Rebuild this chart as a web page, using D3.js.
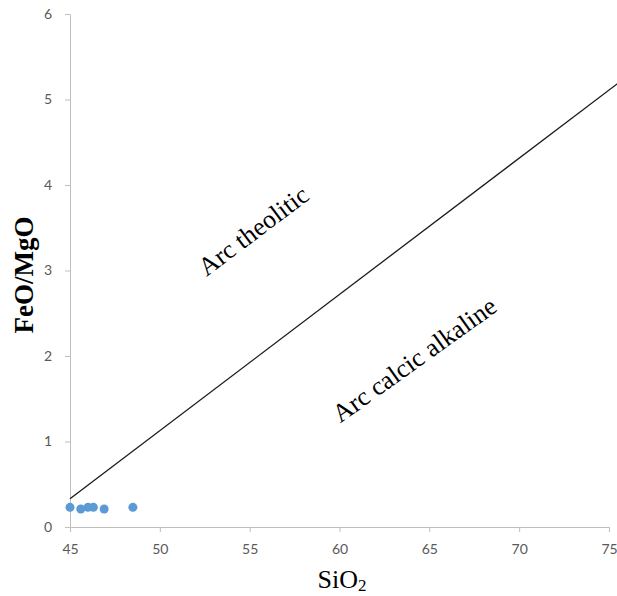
<!DOCTYPE html>
<meta charset="utf-8">
<style>
    body { margin: 0; background: #ffffff; }
    .tick text {
        font-family: Lato, "Open Sans", sans-serif;
        font-size: 14px;
        fill: #595959;
    }
    .axis path, .axis line { stroke: #bfbfbf; }
    .title, .note {
        font-family: "Liberation Serif", "DejaVu Serif", serif;
        fill: #000000;
    }
</style>
<svg width="617" height="596"></svg>
<script src="https://d3js.org/d3.v7.min.js"></script>
<script>

    // samples (SiO2, FeO/MgO)
    var sio2 = [45.0, 45.6, 46.0, 46.3, 46.9, 48.5];
    var feoMgo = [0.23, 0.21, 0.23, 0.23, 0.21, 0.23];

    // dividing line between the two fields
    var boundary = [[45, 0.33], [76, 5.27]];

    var xTicks = [45, 50, 55, 60, 65, 70, 75];
    var yTicks = [0, 1, 2, 3, 4, 5, 6];

    var svg = d3.select("svg"),
        padLeft = 70, padRight = 609, padTop = 14, padBottom = 527;

    var x = d3.scaleLinear().domain([45, 75]).range([padLeft, padRight]);
    var y = d3.scaleLinear().domain([0, 6]).range([padBottom, padTop]);

    svg.append("g")
        .attr("class", "axis")
        .attr("transform", "translate(0," + padBottom + ")")
        .call(d3.axisBottom(x).tickValues(xTicks).tickFormat(d3.format("d")).tickSize(5).tickSizeOuter(0))
        .call(function (g) { g.selectAll("text").attr("y", 17); });

    svg.append("g")
        .attr("class", "axis")
        .attr("transform", "translate(" + padLeft + ",0)")
        .call(d3.axisLeft(y).tickValues(yTicks).tickFormat(d3.format("d")).tickSize(5).tickSizeOuter(0))
        .call(function (g) { g.selectAll("text").attr("x", -18); });

    svg.append("line")
        .attr("x1", x(boundary[0][0]))
        .attr("y1", y(boundary[0][1]))
        .attr("x2", x(boundary[1][0]))
        .attr("y2", y(boundary[1][1]))
        .attr("stroke", "#1a1a1a")
        .attr("stroke-width", 1.3);

    svg.append("g")
        .selectAll("circle")
        .data(sio2)
        .enter().append("circle")
        .attr("cx", function (d) { return x(d); })
        .attr("cy", function (d, i) { return y(feoMgo[i]); })
        .attr("r", 4.5)
        .attr("fill", "#5b9bd5");

    // field labels
    svg.append("text")
        .attr("class", "note")
        .attr("transform", "translate(255,233) rotate(-37)")
        .attr("text-anchor", "middle")
        .attr("dominant-baseline", "middle")
        .style("font-size", "26px")
        .text("Arc theolitic");

    svg.append("text")
        .attr("class", "note")
        .attr("transform", "translate(416,362) rotate(-35.6)")
        .attr("text-anchor", "middle")
        .attr("dominant-baseline", "middle")
        .style("font-size", "26px")
        .text("Arc calcic alkaline");

    // axis titles
    var xt = svg.append("text")
        .attr("class", "title")
        .attr("x", 342)
        .attr("y", 588)
        .attr("text-anchor", "middle")
        .style("font-size", "26px");
    xt.append("tspan").text("SiO");
    xt.append("tspan").attr("dy", 3).style("font-size", "17px").text("2");

    svg.append("text")
        .attr("class", "title")
        .attr("transform", "translate(33,275) rotate(-90)")
        .attr("text-anchor", "middle")
        .style("font-size", "27px")
        .style("font-weight", "bold")
        .text("FeO/MgO");
</script>
